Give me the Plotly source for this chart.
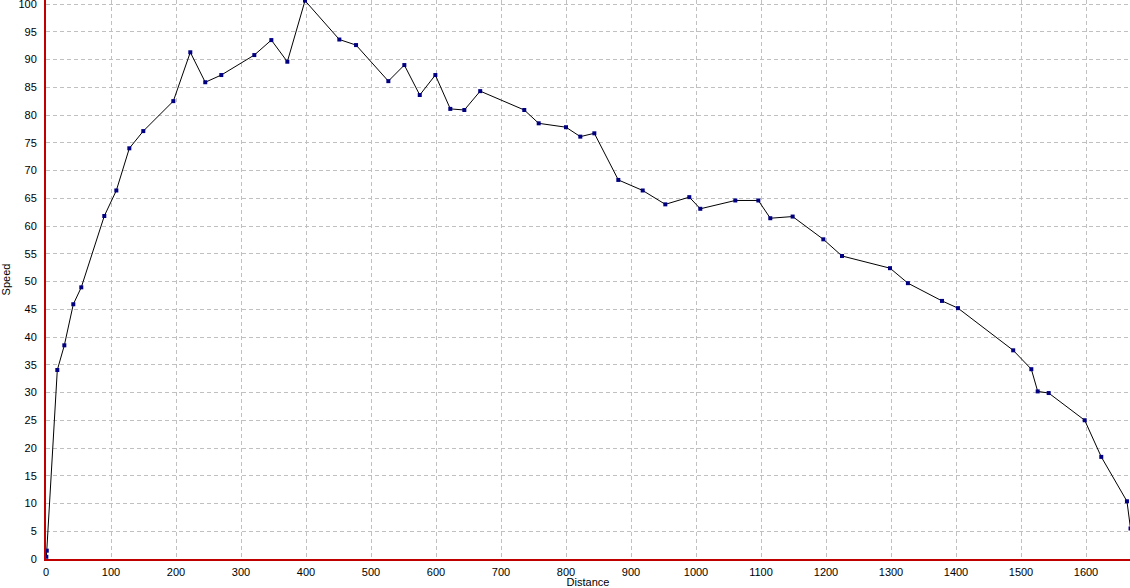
import plotly.graph_objects as go

distance = [0.5, 1.2, 17.4, 28.2, 42.0, 54.3, 89.7, 108.2, 128.2, 149.7,
            195.9, 222.0, 245.0, 269.7, 320.5, 346.7, 371.3, 398.5, 451.3, 477.0,
            526.7, 551.3, 575.0, 599.0, 622.0, 643.6, 668.0, 735.8, 758.0, 800.0,
            822.0, 843.6, 880.5, 918.0, 952.8, 989.7, 1006.6, 1060.5, 1095.9, 1114.3,
            1148.7, 1195.9, 1224.6, 1298.5, 1326.0, 1378.5, 1403.0, 1488.0, 1515.9, 1525.7,
            1542.6, 1598.0, 1623.5, 1663.0, 1668.5]
speed = [0.4, 1.5, 34.05, 38.5, 45.9, 48.95, 61.8, 66.4, 74.0, 77.1,
         82.5, 91.3, 85.9, 87.2, 90.8, 93.5, 89.6, 100.6, 93.6, 92.6,
         86.1, 89.0, 83.6, 87.2, 81.1, 80.9, 84.3, 80.9, 78.5, 77.8,
         76.1, 76.7, 68.3, 66.4, 63.9, 65.2, 63.1, 64.6, 64.6, 61.4,
         61.7, 57.6, 54.6, 52.4, 49.7, 46.5, 45.2, 37.6, 34.2, 30.2,
         29.9, 25.0, 18.4, 10.4, 5.5]

x_ticks = list(range(0, 1700, 100))
y_ticks = list(range(0, 105, 5))

font = dict(family="Liberation Sans, Arial, sans-serif", size=11, color="black")

fig = go.Figure()
fig.add_trace(go.Scatter(
    x=distance, y=speed, mode="lines+markers",
    line=dict(color="black", width=1),
    marker=dict(symbol="square", size=4, color="#000080"),
    showlegend=False,
))

fig.update_layout(
    width=1130, height=588,
    margin=dict(l=46, r=0, t=0, b=29),
    paper_bgcolor="white", plot_bgcolor="white",
    font=font,
)
grid = dict(showgrid=True, gridcolor="#c0c0c0", griddash="4px,3px", gridwidth=1)
fig.update_xaxes(
    range=[0, 1667.7], tickvals=x_ticks, ticktext=[str(v) for v in x_ticks],
    zeroline=False, showline=True, linecolor="#c00000", linewidth=2,
    ticks="", ticklabelstandoff=2, automargin=False, ticklabeloverflow="allow",
    title=dict(text="Distance", standoff=0, font=font),
    **grid,
)
fig.update_yaxes(
    range=[0, 100.72], tickvals=y_ticks, ticktext=[str(v) for v in y_ticks],
    zeroline=False, showline=True, linecolor="#c00000", linewidth=2,
    ticks="", ticklabelstandoff=5, automargin=False, ticklabeloverflow="allow",
    title=dict(text="Speed", standoff=12, font=font),
    **grid,
)

fig.write_html(
    "out.html",
    config={"displayModeBar": False},
    post_script="document.body.style.margin='0';document.body.style.overflow='hidden';",
)
